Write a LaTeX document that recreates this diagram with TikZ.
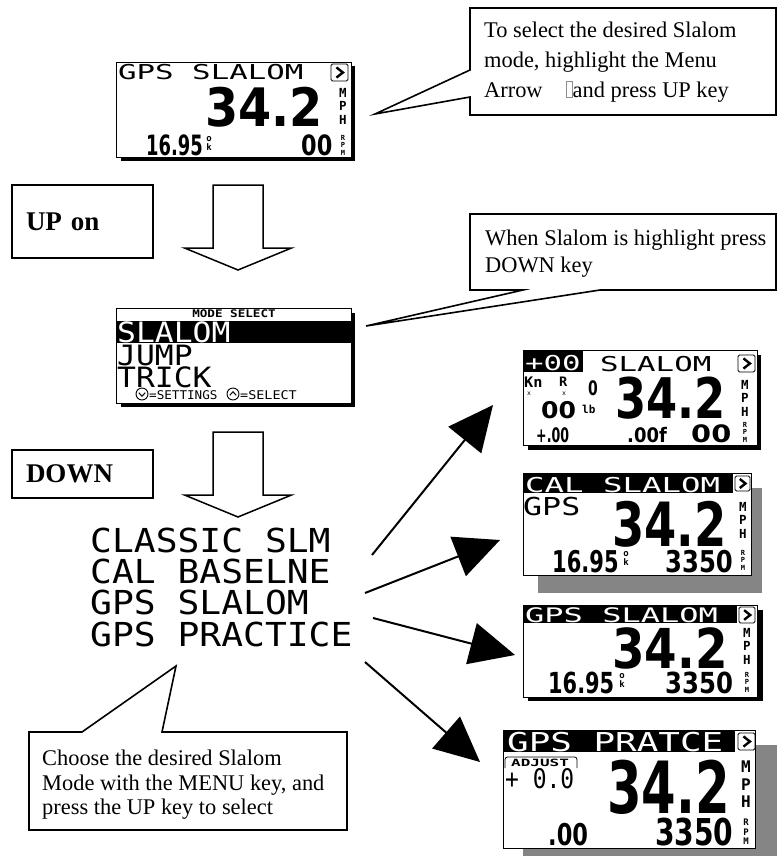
\documentclass[tikz,border=0pt]{standalone}
\usepackage{fontspec}
\setmainfont{Liberation Serif}
\newfontfamily\lcdfont{DejaVu Sans Mono}
\newfontfamily\numfont{DejaVu Sans}
\usepackage{graphicx}
\usetikzlibrary{arrows.meta, positioning, calc}

\tikzset{
  lcdbox/.style={draw, fill=white, line width=0.8pt},
  blackshadow/.style={fill=black},
  grayshadow/.style={fill=black!48},
  hilite/.style={fill=black},
  lcdtxt/.style={inner sep=0pt, anchor=base west, font=\lcdfont},
  lcdnum/.style={inner sep=0pt, anchor=base west, font=\numfont\bfseries},
  unitstack/.style={inner sep=0pt, anchor=north, align=center,
    font=\lcdfont\bfseries\fontsize{12.5}{13.6}\selectfont},
  rpmstack/.style={inner sep=0pt, anchor=north, align=center,
    font=\lcdfont\bfseries\fontsize{7}{7.6}\selectfont},
  okstack/.style={inner sep=0pt, anchor=north, align=center,
    font=\lcdfont\bfseries\fontsize{9}{9.6}\selectfont},
  btn/.style={circle, draw, line width=0.9pt, minimum size=12pt, inner sep=0pt},
  keybox/.style={draw, line width=1.5pt, minimum width=141pt, text width=113pt,
    inner xsep=14pt, align=left, font=\bfseries\fontsize{27}{27}\selectfont},
  notebox/.style={draw, fill=white, line width=1.6pt, line join=miter},
  notetext/.style={inner sep=0pt, anchor=north west, align=left,
    font=\fontsize{22.4}{30}\selectfont},
  blockarr/.style={draw, fill=white, line width=1.5pt},
  bigarr/.style={line width=2pt, -{Triangle[length=45pt, width=42pt]}},
}
% stretched LCD text: xscale, size, text
\newcommand{\lcd}[3]{\scalebox{#1}[1]{\fontsize{#2}{#2}\selectfont #3}}
% menu arrow icon: x, y, size
\newcommand{\menuicon}[3]{%
  \draw[line width=0.9pt, rounded corners=1.5pt] (#1,#2) rectangle ++(#3,#3);
  \draw[line width=2.4pt, line join=miter] ({#1+0.32*#3},{#2+0.2*#3})
    -- ({#1+0.7*#3},{#2+0.5*#3}) -- ({#1+0.32*#3},{#2+0.8*#3});
}
% hollow down arrow: name, x, y of shaft top
\newcommand{\blockdown}[3]{%
  \coordinate (#1) at (#2,#3);
  \draw[blockarr] ($(#1)+(-25,0)$) -- ++(50,0) -- ++(0,63) -- ++(28.5,0)
    -- ($(#1)+(0,85)$) -- ($(#1)+(-53.5,63)$) -- ++(28.5,0) -- cycle;
}
\newcommand{\missingbox}{{\setlength{\fboxsep}{0pt}\setlength{\fboxrule}{0.5pt}%
  \fcolorbox{black!45}{white}{\rule{0pt}{16pt}\hspace{6pt}}}}

\begin{document}
\begin{tikzpicture}[x=1pt, y=-1pt]
  \useasboundingbox (0,0) rectangle (778,856);
  \fill[white] (0,0) rectangle (778,856);

  % top screen
  \fill[blackshadow] (121,66) rectangle (355,161);
  \draw[lcdbox] (116,62) rectangle (351,157);
  \node[lcdtxt] (s1title) at (118,80) {\lcd{1.5}{20.5}{GPS SLALOM}};
  \menuicon{331}{64}{17}
  \node[lcdnum] (s1speed) at (205,127) {\lcd{0.9}{53}{34.2}};
  \node[unitstack] (s1mph) at (343,88) {M\\P\\H};
  \node[lcdnum] (s1dist) at (146,155) {\lcd{0.64}{28}{16.95}};
  \node[okstack] (s1ok) at (209,136) {o\\k};
  \node[lcdnum] (s1rpm) at (301,155) {\lcd{0.8}{28}{00}};
  \node[rpmstack] (s1rpmlbl) at (343,135) {R\\P\\M};

  % callout 1
  \coordinate (tip1) at (375,114);
  \draw[notebox] (470,8) -- (776,8) -- (776,115) -- (470,115) -- (470,97)
    -- (tip1) -- (470,70) -- cycle;
  \node[notetext] (note1) at (484,21.5) {To select the desired Slalom\\
    mode, highlight the Menu\\
    Arrow\hspace{23pt}\missingbox{}and press UP key};

  % UP on
  \node[keybox, minimum height=73pt] (upon) at (82.5,221.5) {UP on};
  \blockdown{uparr}{238}{185}

  % callout 2
  \coordinate (tip2) at (366,326);
  \draw[notebox] (470,214) -- (776,214) -- (776,290) -- (600,290) -- (tip2)
    -- (523,290) -- (470,290) -- cycle;
  \node[notetext, font=\fontsize{22.4}{27}\selectfont] (note2) at (485,229.5)
    {When Slalom is highlight press\\DOWN key};

  % mode select screen
  \fill[blackshadow] (121,313) rectangle (355,407);
  \draw[lcdbox] (116,308) rectangle (351,403);
  \node[lcdtxt, anchor=base] (mstitle) at (234,317.5) {\lcd{1.2}{10.5}{\bfseries MODE SELECT}};
  \fill[hilite] (116,321) rectangle (351,343);
  \node[lcdtxt, text=white] (msslalom) at (117,342) {\lcd{1.12}{28}{SLALOM}};
  \node[lcdtxt] (msjump) at (117,365) {\lcd{1.12}{28}{JUMP}};
  \node[lcdtxt] (mstrick) at (117,387) {\lcd{1.12}{28}{TRICK}};
  \node[btn] (setbtn) at (142,394) {};
  \draw[line width=1pt] ([shift={(-3.2,-1.3)}]setbtn.center)
    -- ([shift={(0,2.3)}]setbtn.center) -- ([shift={(3.2,-1.3)}]setbtn.center);
  \node[lcdtxt] (settxt) at (149,399) {\lcd{1.05}{12}{=SETTINGS}};
  \node[btn] (selbtn) at (233,394) {};
  \draw[line width=1pt] ([shift={(-3.2,1.3)}]selbtn.center)
    -- ([shift={(0,-2.3)}]selbtn.center) -- ([shift={(3.2,1.3)}]selbtn.center);
  \node[lcdtxt] (seltxt) at (240,399) {\lcd{1.12}{12}{=SELECT}};

  % DOWN
  \node[keybox, minimum height=48pt] (downkey) at (82.5,474) {DOWN};
  \blockdown{downarr}{238}{432}

  % slalom modes
  \node[lcdtxt] (slm) at (90,552) {\lcd{1.1}{33}{CLASSIC SLM}};
  \node[lcdtxt] (cal) at (90,583) {\lcd{1.1}{33}{CAL BASELNE}};
  \node[lcdtxt] (gps) at (90,614) {\lcd{1.1}{33}{GPS SLALOM}};
  \node[lcdtxt] (prac) at (90,646) {\lcd{1.1}{33}{GPS PRACTICE}};

  % callout 3
  \coordinate (tip3) at (176,666);
  \draw[notebox] (29,732) -- (82,732) -- (tip3) -- (162,732) -- (347,732)
    -- (347,830) -- (29,830) -- cycle;
  \node[notetext, font=\fontsize{22.4}{24.5}\selectfont] (note3) at (42,750)
    {Choose the desired Slalom\\Mode with the MENU key, and\\press the UP key to select};

  % screen A: +00 SLALOM
  \fill[blackshadow] (528,355) rectangle (761,450);
  \draw[lcdbox] (523,350) rectangle (757,445);
  \fill[hilite] (523,350) rectangle (583,372);
  \node[lcdtxt, text=white] (aofs) at (525,370) {\lcd{1.5}{20.5}{+00}};
  \node[lcdtxt] (atitle) at (600,371) {\lcd{1.5}{20.5}{SLALOM}};
  \menuicon{738}{355}{17}
  \node[lcdtxt] (akn) at (524,387) {\lcd{1.05}{14.5}{\bfseries Kn}};
  \node[lcdtxt] (akr) at (559,386) {\lcd{1.05}{13}{\bfseries R}};
  \node[lcdtxt] (akx) at (527,395.5) {\lcd{1}{6.5}{x}};
  \node[lcdtxt] (arx) at (562,395.5) {\lcd{1}{6.5}{x}};
  \node[lcdnum] (azero) at (588,395) {\lcd{0.7}{20}{0}};
  \node[lcdnum] (aload) at (541,418) {\lcd{1.09}{23}{00}};
  \node[lcdtxt] (alb) at (582,413) {\lcd{1}{11}{\bfseries lb}};
  \node[lcdnum] (aspeed) at (615,418) {\lcd{0.8}{56}{34.2}};
  \node[unitstack] (amph) at (745,380) {M\\P\\H};
  \node[lcdnum] (atrim) at (536,442) {\lcd{0.63}{20}{+.00}};
  \node[lcdnum] (afeet) at (627,442) {\lcd{0.9}{20}{.00f}};
  \node[lcdnum] (arpm) at (691,442) {\lcd{1.2}{24}{00}};
  \node[rpmstack] (arpmlbl) at (745,422) {R\\P\\M};

  % screen B: CAL SLALOM
  \fill[grayshadow] (538,488) rectangle (762,593);
  \draw[lcdbox] (523,473) rectangle (751,575);
  \fill[hilite] (523,473) rectangle (733,493);
  \node[lcdtxt, text=white] (btitle) at (525,492) {\lcd{1.58}{20.5}{CAL SLALOM}};
  \menuicon{735}{476}{15}
  \node[lcdtxt] (bgps) at (523,515) {\lcd{1.28}{24.7}{GPS}};
  \node[lcdnum] (bspeed) at (612,546) {\lcd{0.76}{61}{34.2}};
  \node[unitstack] (bmph) at (743,502) {M\\P\\H};
  \node[lcdnum] (bdist) at (552,572) {\lcd{0.7}{30}{16.95}};
  \node[okstack] (bok) at (626,551) {o\\k};
  \node[lcdnum] (brpm) at (665,572) {\lcd{0.81}{30}{3350}};
  \node[rpmstack] (brpmlbl) at (743,550) {R\\P\\M};

  % screen C: GPS SLALOM
  \fill[blackshadow] (528,610) rectangle (763,701);
  \draw[lcdbox] (523,605) rectangle (757,697);
  \fill[hilite] (523,605) rectangle (737,623);
  \node[lcdtxt, text=white] (ctitle) at (525,622) {\lcd{1.6}{20}{GPS SLALOM}};
  \menuicon{739}{607}{16}
  \node[lcdnum] (cspeed) at (612,668) {\lcd{0.85}{55}{34.2}};
  \node[unitstack] (cmph) at (747,628) {M\\P\\H};
  \node[lcdnum] (cdist) at (548,693) {\lcd{0.72}{29}{16.95}};
  \node[okstack] (cok) at (622,673) {o\\k};
  \node[lcdnum] (crpm) at (665,693) {\lcd{0.84}{29}{3350}};
  \node[rpmstack] (crpmlbl) at (747,672) {R\\P\\M};

  % screen D: GPS PRATCE
  \fill[grayshadow] (523,745) rectangle (777,860);
  \draw[lcdbox] (503,730) rectangle (755,848);
  \fill[hilite] (503,730) rectangle (735,752);
  \node[lcdtxt, text=white] (dtitle) at (507,751) {\lcd{1.38}{26}{GPS PRATCE}};
  \menuicon{738}{733}{17}
  \draw[line width=0.8pt, rounded corners=2.5pt] (505,768) -- (505,757) -- (577,757) -- (577,768);
  \node[lcdtxt] (dadj) at (511,766) {\lcd{1.6}{10}{\bfseries ADJUST}};
  \node[lcdtxt] (dtrim) at (505,788) {\lcd{0.85}{27}{+ 0.0}};
  \node[lcdnum] (dspeed) at (607,813) {\lcd{0.69}{72}{34.2}};
  \node[unitstack, font=\lcdfont\bfseries\fontsize{16}{17.5}\selectfont] (dmph) at (746,761) {M\\P\\H};
  \node[lcdnum] (ddist) at (548,845) {\lcd{0.75}{30}{.00}};
  \node[lcdnum] (drpm) at (655,845) {\lcd{0.76}{37}{3350}};
  \node[rpmstack, font=\lcdfont\bfseries\fontsize{9}{9.6}\selectfont] (drpmlbl) at (746,819) {R\\P\\M};

  % arrows to the screens
  \coordinate (fromA) at (372,555);
  \coordinate (toA) at (493,405);
  \coordinate (fromB) at (365,593);
  \coordinate (toB) at (500,540);
  \coordinate (fromC) at (373,618);
  \coordinate (toC) at (515,655);
  \coordinate (fromD) at (365,662);
  \coordinate (toD) at (480,762);
  \draw[bigarr] (fromA) -- (toA);
  \draw[bigarr] (fromB) -- (toB);
  \draw[bigarr] (fromC) -- (toC);
  \draw[bigarr] (fromD) -- (toD);
\end{tikzpicture}
\end{document}
